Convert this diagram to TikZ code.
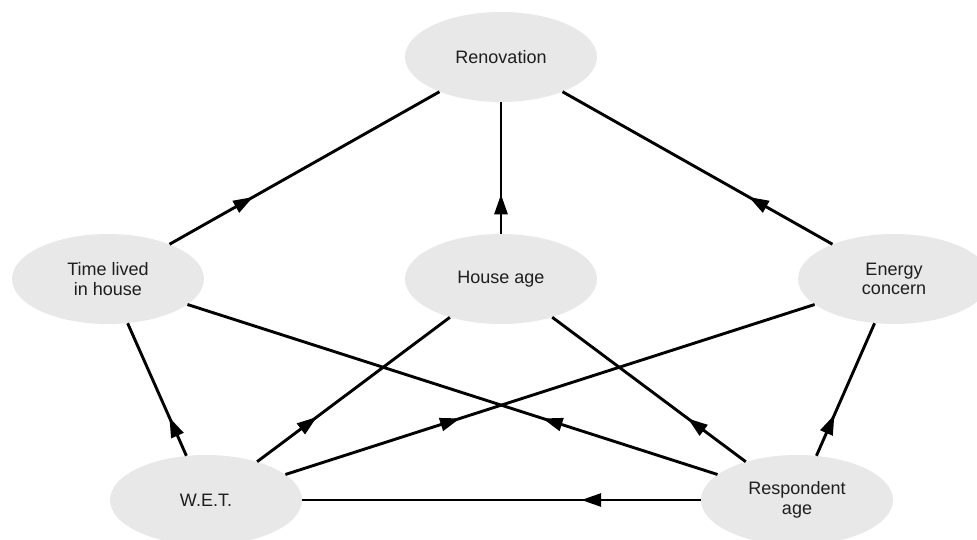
\documentclass[tikz,border=0pt]{standalone}
\usepackage{fontspec}
\setmainfont{Liberation Sans}
\usetikzlibrary{shapes.geometric,arrows.meta,decorations.markings}
\definecolor{nodefill}{RGB}{232,232,232}
\definecolor{txt}{RGB}{30,30,30}
\tikzset{
  var/.style={ellipse, fill=nodefill, draw=none, minimum width=192pt, minimum height=90pt,
    inner sep=0pt, align=center, text=txt, font=\fontsize{18}{19.5}\selectfont},
  edge/.style={line width=2.9pt, black},
  arr/.style={postaction={decorate}, decoration={markings,
    mark=at position #1 with {\arrow{Triangle[length=20pt,width=13pt]}}}}
}
\begin{document}
\begin{tikzpicture}[x=1pt,y=-1pt]
\useasboundingbox (0,0) rectangle (977,540);
\clip (0,0) rectangle (977,540);
\node[var] (renov) at (501,57) {Renovation};
\node[var] (time) at (108,279) {Time lived\\in house};
\node[var] (house) at (501,279) {House age};
\node[var] (energy) at (894,279) {Energy\\concern};
\node[var] (wet) at (206,500) {W.E.T.};
\node[var] (resp) at (797,500) {Respondent\\age};
\draw[edge, arr=0.31] (time) -- (renov);
\draw[edge, arr=0.30] (house) -- (renov);
\draw[edge, arr=0.31] (energy) -- (renov);
\draw[edge, arr=0.29] (wet) -- (time);
\draw[edge, arr=0.31] (wet) -- (house);
\draw[edge, arr=0.33] (wet) -- (energy);
\draw[edge, arr=0.33] (resp) -- (time);
\draw[edge, arr=0.30] (resp) -- (house);
\draw[edge, arr=0.31] (resp) -- (energy);
\draw[edge, arr=0.30] (resp) -- (wet);
\end{tikzpicture}
\end{document}
